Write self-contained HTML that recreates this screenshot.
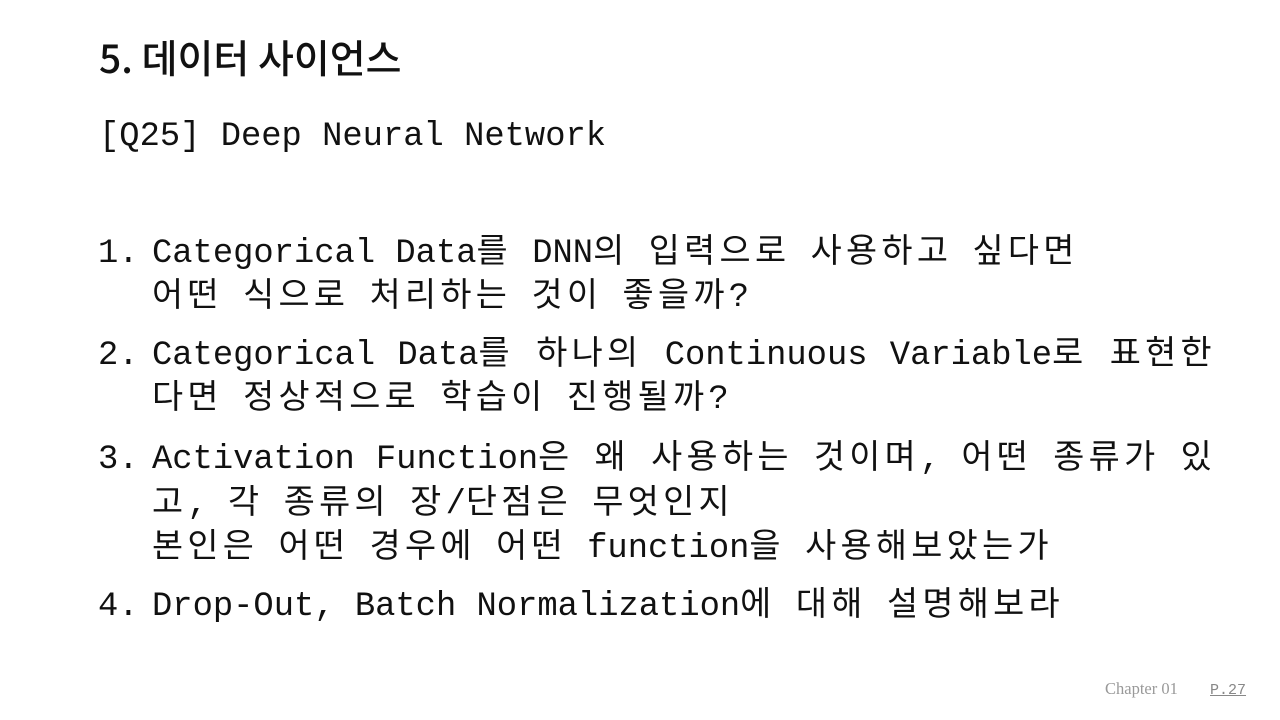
<!DOCTYPE html>
<html><head><meta charset="utf-8"><style>
body{margin:0;width:1280px;height:720px;background:#fff;position:relative;overflow:hidden}
.t{position:absolute;left:99px;top:31px;font:500 39px/52px "Noto Sans CJK KR",sans-serif;color:#111;letter-spacing:0}
.m{position:absolute;font-family:"Liberation Mono","Noto Sans CJK KR",monospace;font-size:33.8px;line-height:44px;color:#111;white-space:pre}
.k{font-family:"Noto Sans CJK KR",sans-serif;letter-spacing:4.3px}
.j{width:1064px;text-align:justify;text-align-last:justify;white-space:normal}
.f{position:absolute;top:680px;font:16.5px "Liberation Serif",serif;color:#999;line-height:20px}
</style></head><body>
<div class="t">5. 데이터 사이언스</div>
<div class="m" style="left:99px;top:115px">[Q25] Deep Neural Network</div>
<div class="m" style="left:98px;top:232px">1.</div>
<div class="m" style="left:152px;top:226px">Categorical Data<span class="k">를</span> DNN<span class="k">의</span> <span class="k">입력으로</span> <span class="k">사용하고</span> <span class="k">싶다면</span></div>
<div class="m" style="left:152px;top:270px"><span class="k">어떤</span> <span class="k">식으로</span> <span class="k">처리하는</span> <span class="k">것이</span> <span class="k">좋을까</span>?</div>
<div class="m" style="left:98px;top:334px">2.</div>
<div class="m j" style="left:152px;top:328px">Categorical Data<span class="k">를</span> <span class="k">하나의</span> Continuous Variable<span class="k">로</span> <span class="k">표현한</span></div>
<div class="m" style="left:152px;top:372px"><span class="k">다면</span> <span class="k">정상적으로</span> <span class="k">학습이</span> <span class="k">진행될까</span>?</div>
<div class="m" style="left:98px;top:438px">3.</div>
<div class="m j" style="left:152px;top:432px">Activation Function<span class="k">은</span> <span class="k">왜</span> <span class="k">사용하는</span> <span class="k">것이며</span>, <span class="k">어떤</span> <span class="k">종류가</span> <span class="k">있</span></div>
<div class="m" style="left:152px;top:477px"><span class="k">고</span>, <span class="k">각</span> <span class="k">종류의</span> <span class="k">장</span>/<span class="k">단점은</span> <span class="k">무엇인지</span></div>
<div class="m" style="left:152px;top:521px"><span class="k">본인은</span> <span class="k">어떤</span> <span class="k">경우에</span> <span class="k">어떤</span> function<span class="k">을</span> <span class="k">사용해보았는가</span></div>
<div class="m" style="left:98px;top:585px">4.</div>
<div class="m" style="left:152px;top:579px">Drop-Out, Batch Normalization<span class="k">에</span> <span class="k">대해</span> <span class="k">설명해보라</span></div>
<div class="f" style="left:1105px;top:679px">Chapter 01</div>
<div class="f" style="left:1210px;top:681px;font-family:'Liberation Mono',monospace;font-size:15px;text-decoration:underline;color:#888">P.27</div>
</body></html>
